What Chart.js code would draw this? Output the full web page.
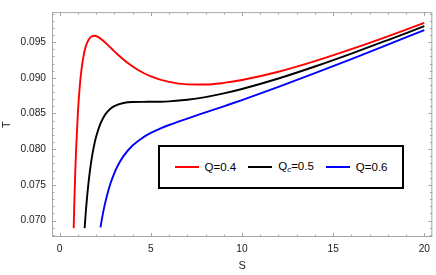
<!DOCTYPE html>
<html>
<head>
<meta charset="utf-8">
<script src="https://cdn.jsdelivr.net/npm/chart.js@4.4.0/dist/chart.umd.min.js"></script>
<style>
  html, body { margin: 0; padding: 0; background: #fff; }
  #wrap { position: relative; width: 436px; height: 275px; }
  #legend {
    position: absolute; left: 158px; top: 145px; width: 242px; height: 40px;
    border: 2px solid #000; background: #fff;
    display: flex; align-items: center; justify-content: center;
    font-family: "Liberation Sans", Arial, sans-serif; font-size: 11.5px; color: #000;
  }
  .item { display: flex; align-items: center; margin: 0 6px; }
  .swatch { width: 24px; height: 2px; margin-right: 6px; }
  sub { font-size: 8px; font-style: italic; vertical-align: -2px; }
</style>
</head>
<body>
<div id="wrap">
  <canvas id="chart" width="436" height="275"></canvas>
  <div id="legend"></div>
</div>
<script>
// values: entropy S against temperature T
const sRed   = [0.77, 0.8, 0.85, 0.9, 1.0, 1.1, 1.2, 1.35, 1.5, 1.7, 1.9, 2.1, 2.4, 2.8, 3.2, 3.7, 4.3, 5, 6, 7, 8, 9, 10, 12, 14, 16, 18, 20];
const tRed   = [0.06894, 0.07200, 0.07631, 0.07984, 0.08511, 0.08873, 0.09122, 0.09358, 0.09490, 0.09570, 0.09588, 0.09572, 0.09516, 0.09420, 0.09323, 0.09215, 0.09110, 0.09020, 0.08942, 0.08908, 0.08906, 0.08929, 0.08969, 0.09085, 0.09234, 0.09402, 0.09581, 0.09768];

const sBlack = [1.37, 1.4, 1.45, 1.5, 1.6, 1.7, 1.8, 1.9, 2.0, 2.2, 2.4, 2.6, 2.8, 3.0, 3.5, 4.0, 4.6, 5.0, 5.5, 6, 7, 8, 9, 10, 12, 14, 16, 18, 20];
const tBlack = [0.06894, 0.07004, 0.07171, 0.07319, 0.07570, 0.07771, 0.07934, 0.08066, 0.08173, 0.08334, 0.08444, 0.08518, 0.08569, 0.08604, 0.08647, 0.08661, 0.08663, 0.08664, 0.08665, 0.08670, 0.08692, 0.08730, 0.08781, 0.08843, 0.08990, 0.09158, 0.09339, 0.09529, 0.09723];

const sBlue  = [2.24, 2.3, 2.4, 2.5, 2.6, 2.8, 3.0, 3.2, 3.5, 4.0, 4.6, 5.0, 5.5, 6, 7, 8, 9, 10, 12, 14, 16, 18, 20];
const tBlue  = [0.06906, 0.06997, 0.07133, 0.07251, 0.07355, 0.07529, 0.07666, 0.07775, 0.07903, 0.08051, 0.08169, 0.08228, 0.08287, 0.08339, 0.08429, 0.08515, 0.08601, 0.08688, 0.08872, 0.09065, 0.09263, 0.09465, 0.09668];

const seriesLabels = ["Q=0.4", "Q<sub>c</sub>=0.5", "Q=0.6"];
const seriesColors = ["#ff0000", "#000000", "#0000ff"];
const xTicks = [0, 5, 10, 15, 20];
const yTicks = [0.070, 0.075, 0.080, 0.085, 0.090, 0.095];

const frameColor = "#a6a6a6";
const font = { family: "'Liberation Sans', Arial, sans-serif", size: 10.2 };

function pts(xs, ys) {
  return xs.map((x, i) => ({ x: x, y: ys[i] }));
}

// frame box with inward ticks on all four sides, like the original
const frameTicks = {
  id: "frameTicks",
  beforeDatasetsDraw(chart) {
    const { ctx, chartArea: a, scales } = chart;
    const x = scales.x, y = scales.y;
    ctx.save();
    ctx.strokeStyle = frameColor;
    ctx.lineWidth = 1;
    ctx.strokeRect(a.left + 0.5, a.top + 0.5, a.right - a.left - 1, a.bottom - a.top - 1);
    ctx.beginPath();
    for (let v = 0; v <= 20; v++) {
      const px = Math.round(x.getPixelForValue(v)) + 0.5;
      const len = v % 5 === 0 ? 4 : 2.5;
      ctx.moveTo(px, a.bottom); ctx.lineTo(px, a.bottom - len);
      ctx.moveTo(px, a.top); ctx.lineTo(px, a.top + len);
    }
    for (let k = 68; k <= 99; k++) {
      const py = Math.round(y.getPixelForValue(k / 1000)) + 0.5;
      const len = k % 5 === 0 ? 4 : 2.5;
      ctx.moveTo(a.left, py); ctx.lineTo(a.left + len, py);
      ctx.moveTo(a.right, py); ctx.lineTo(a.right - len, py);
    }
    ctx.stroke();
    ctx.restore();
  }
};

const chart = new Chart(document.getElementById("chart"), {
  type: "line",
  data: {
    datasets: [
      { data: pts(sRed, tRed), borderColor: seriesColors[0] },
      { data: pts(sBlack, tBlack), borderColor: seriesColors[1] },
      { data: pts(sBlue, tBlue), borderColor: seriesColors[2] }
    ].map(d => Object.assign(d, { borderWidth: 1.9, pointRadius: 0, fill: false, cubicInterpolationMode: "monotone" }))
  },
  options: {
    responsive: false,
    animation: false,
    devicePixelRatio: 1,
    layout: { padding: { top: 2, right: 2, left: 0, bottom: 0 } },
    plugins: { legend: { display: false }, tooltip: { enabled: false } },
    scales: {
      x: {
        type: "linear", min: -0.42, max: 20.44,
        grid: { display: false, drawTicks: false },
        border: { display: false },
        afterBuildTicks: s => { s.ticks = xTicks.map(v => ({ value: v })); },
        afterFit: s => { s.height = 38; },
        ticks: { font: font, color: "#222", padding: 6, maxRotation: 0, callback: v => String(v) },
        title: { display: true, text: "S", font: { family: font.family, size: 11 }, color: "#222", padding: { top: 0, bottom: 2 } }
      },
      y: {
        type: "linear", min: 0.0677, max: 0.0992,
        grid: { display: false, drawTicks: false },
        border: { display: false },
        afterBuildTicks: s => { s.ticks = yTicks.map(v => ({ value: v })); },
        afterFit: s => { s.width = 52; },
        ticks: { font: font, color: "#222", padding: 6, callback: v => v.toFixed(3) },
        title: { display: true, text: "T", font: { family: font.family, size: 11 }, color: "#222", padding: 0 }
      }
    }
  },
  plugins: [frameTicks]
});

// legend box (needs a subscript, so it is built as html)
const legend = document.getElementById("legend");
seriesLabels.forEach((lab, i) => {
  const item = document.createElement("div");
  item.className = "item";
  item.innerHTML = `<span class="swatch" style="background:${seriesColors[i]}"></span><span>${lab}</span>`;
  legend.appendChild(item);
});
</script>
</body>
</html>
